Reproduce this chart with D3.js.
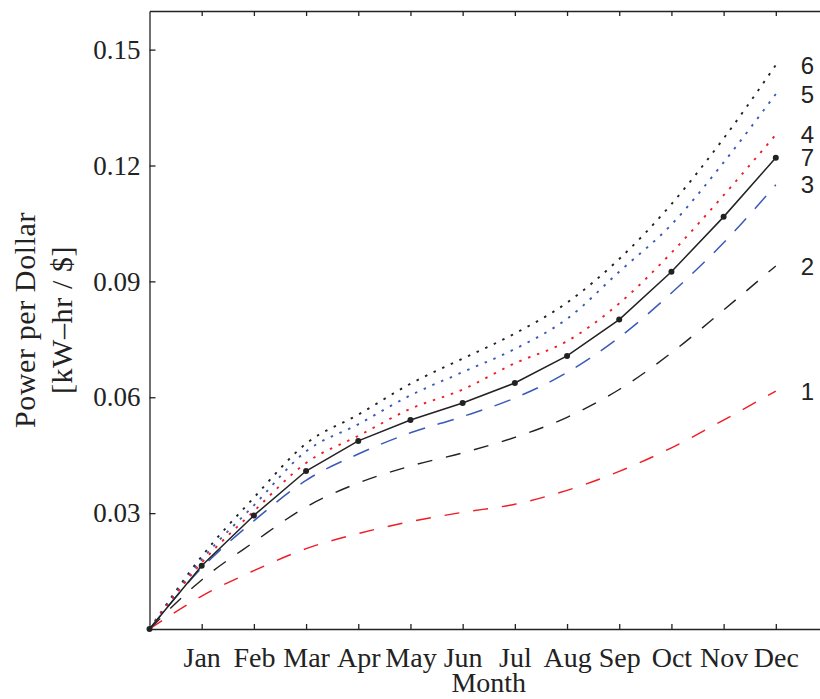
<!DOCTYPE html>
<html>
<head>
<meta charset="utf-8">
<script src="https://cdn.jsdelivr.net/npm/d3@7/dist/d3.min.js"></script>
<style>
  body { margin: 0; background: #fff; }
  .axis text { font-family: "Liberation Serif", serif; font-size: 27px; fill: #222; }
  .axis.months text { font-size: 28px; }
  .axis path, .axis line { stroke: #222; stroke-width: 1.3; }
</style>
</head>
<body>
<svg id="chart" width="820" height="699"></svg>
<script>
var months = ['Jan', 'Feb', 'Mar', 'Apr', 'May', 'Jun', 'Jul', 'Aug', 'Sep', 'Oct', 'Nov', 'Dec'];
var monthIndex = [0, 1, 2, 3, 4, 5, 6, 7, 8, 9, 10, 11, 12];
var yTicks = [0.03, 0.06, 0.09, 0.12, 0.15];

// one array per run, month 0 (start) .. Dec
var run1 = [0, 0.0085, 0.0151, 0.0208, 0.0247, 0.0278, 0.0302, 0.0323, 0.0359, 0.0408, 0.0469, 0.0541, 0.0616];
var run2 = [0, 0.0127, 0.0225, 0.0316, 0.0378, 0.0422, 0.0456, 0.0496, 0.0548, 0.0620, 0.0715, 0.0826, 0.0940];
var run3 = [0, 0.0158, 0.0280, 0.0385, 0.0453, 0.0508, 0.0550, 0.0598, 0.0664, 0.0755, 0.0870, 0.1000, 0.1150];
var run4 = [0, 0.0172, 0.0305, 0.0430, 0.0500, 0.0570, 0.0620, 0.0688, 0.0745, 0.0843, 0.0974, 0.1123, 0.1280];
var run5 = [0, 0.0180, 0.0320, 0.0460, 0.0530, 0.0605, 0.0665, 0.0725, 0.0803, 0.0925, 0.1047, 0.1208, 0.1385];
var run6 = [0, 0.0188, 0.0340, 0.0480, 0.0555, 0.0635, 0.0700, 0.0765, 0.0845, 0.0958, 0.1100, 0.1270, 0.1460];
var run7 = [0, 0.0164, 0.0294, 0.0409, 0.0487, 0.0541, 0.0585, 0.0637, 0.0707, 0.0801, 0.0925, 0.1067, 0.1220];
var runNames = ['1', '2', '3', '4', '5', '6', '7'];

var svg = d3.select('#chart');
var x = d3.scaleLinear().domain([0, 13]).range([149.5, 828]);
var y = d3.scaleLinear().domain([0, 0.16]).range([629, 11]);

// look of each run; drawn in this order so the solid one ends on top
var looks = [
  { name: '6', data: run6, color: '#222', dash: '2.5,7', width: 1.9, curve: d3.curveMonotoneX },
  { name: '5', data: run5, color: '#3a5ab8', dash: '2.5,7', width: 1.9, curve: d3.curveMonotoneX },
  { name: '4', data: run4, color: '#f01c24', dash: '2.5,7', width: 1.9, curve: d3.curveMonotoneX },
  { name: '1', data: run1, color: '#f01c24', dash: '15,14', width: 1.4, curve: d3.curveMonotoneX },
  { name: '2', data: run2, color: '#222', dash: '15,14', width: 1.4, curve: d3.curveMonotoneX },
  { name: '3', data: run3, color: '#3a5ab8', dash: '17,13', width: 1.5, curve: d3.curveMonotoneX },
  { name: '7', data: run7, color: '#222', dash: null, width: 1.5, curve: d3.curveLinear }
];

looks.forEach(function(s) {
  var line = d3.line()
    .x(function(d, i) { return x(monthIndex[i]); })
    .y(function(d) { return y(d); })
    .curve(s.curve);
  svg.append('path')
    .datum(s.data)
    .attr('d', line)
    .attr('fill', 'none')
    .attr('stroke', s.color)
    .attr('stroke-width', s.width)
    .attr('stroke-dasharray', s.dash);
});

// markers on the solid run
svg.selectAll('circle.mark')
  .data(run7)
  .enter().append('circle')
  .attr('class', 'mark')
  .attr('cx', function(d, i) { return x(monthIndex[i]); })
  .attr('cy', function(d) { return y(d); })
  .attr('r', 3)
  .attr('fill', '#222');

// run labels at the right end of each line
runNames.forEach(function(n) {
  var s = looks.find(function(l) { return l.name === n; });
  svg.append('text')
    .attr('x', x(12) + 25)
    .attr('y', y(s.data[s.data.length - 1]))
    .attr('dy', '0.36em')
    .attr('font-family', '"Liberation Sans", Arial, sans-serif')
    .attr('font-size', 24)
    .attr('fill', '#222')
    .text(n);
});

// axes box, ticks pointing inward
svg.append('g')
  .attr('class', 'axis months')
  .attr('transform', 'translate(0,' + y(0) + ')')
  .call(d3.axisBottom(x).tickValues(d3.range(1, 13)).tickSize(-5).tickSizeOuter(0)
    .tickPadding(18).tickFormat(function(d) { return months[d - 1]; }));

svg.append('g')
  .attr('class', 'axis')
  .attr('transform', 'translate(0,' + y(0.16) + ')')
  .call(d3.axisTop(x).tickValues(d3.range(1, 13)).tickSize(-5).tickSizeOuter(0).tickFormat(''));

svg.append('g')
  .attr('class', 'axis')
  .attr('transform', 'translate(' + x(0) + ',0)')
  .call(d3.axisLeft(y).tickValues(yTicks).tickSize(-6).tickSizeOuter(0)
    .tickPadding(9).tickFormat(d3.format('.2f')));

svg.append('g')
  .attr('class', 'axis')
  .attr('transform', 'translate(' + x(13) + ',0)')
  .call(d3.axisRight(y).tickValues(yTicks).tickSize(-6).tickSizeOuter(0).tickFormat(''));

// axis titles
svg.append('text')
  .attr('x', x(6.5))
  .attr('y', 692)
  .attr('text-anchor', 'middle')
  .attr('font-family', '"Liberation Serif", serif')
  .attr('font-size', 28)
  .attr('fill', '#222')
  .text('Month');

var yTitle = svg.append('text')
  .attr('transform', 'translate(0,320) rotate(-90)')
  .attr('text-anchor', 'middle')
  .attr('font-family', '"Liberation Serif", serif')
  .attr('font-size', 30)
  .attr('letter-spacing', 0.6)
  .attr('fill', '#222');
yTitle.append('tspan').attr('x', 0).attr('y', 35).text('Power per Dollar');
yTitle.append('tspan').attr('x', 0).attr('y', 72).text('[kW–hr / $]');
</script>
</body>
</html>
